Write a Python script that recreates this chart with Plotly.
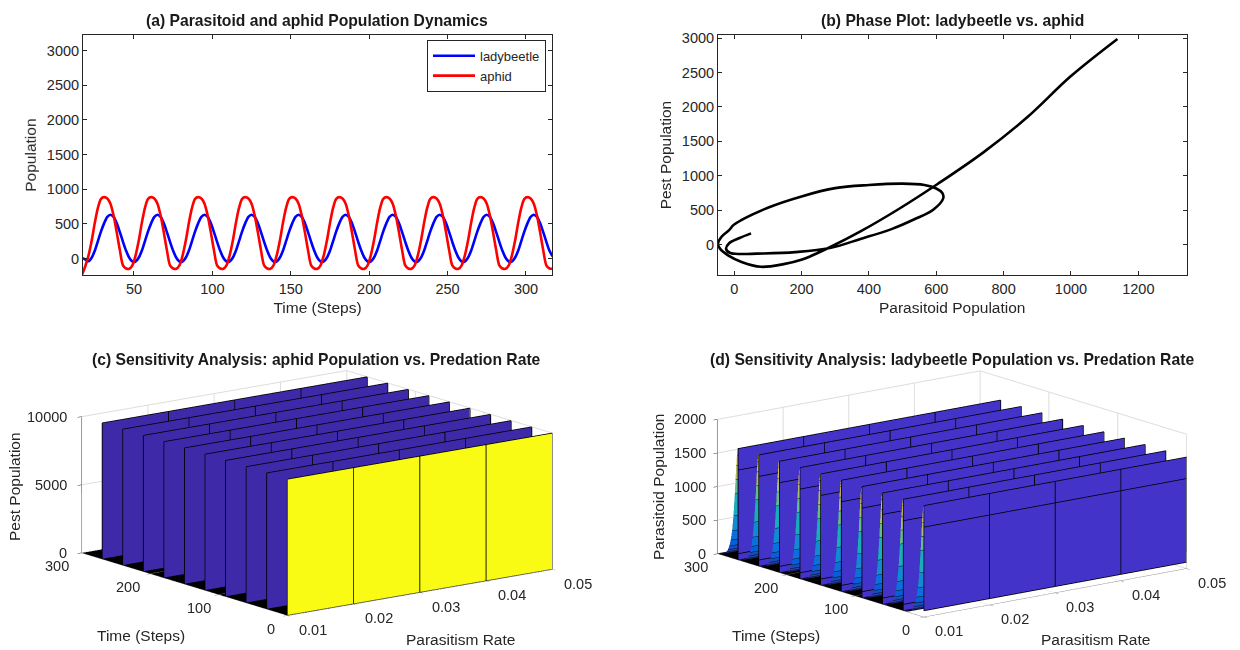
import plotly.graph_objects as go

W, H = 1240, 650

time_a = [17, 19, 21, 23, 25, 27, 29] + list(range(31, 318, 2))
ladybeetle = [5, -15, -40, 10, 110, 250, 390,
    510, 600, 630, 600, 510, 380, 240, 110, 10, -45, -45, 10, 110, 250, 390,
    510, 600, 630, 600, 510, 380, 240, 110, 10, -45, -45, 10, 110, 250, 390,
    510, 600, 630, 600, 510, 380, 240, 110, 10, -45, -45, 10, 110, 250, 390,
    510, 600, 630, 600, 510, 380, 240, 110, 10, -45, -45, 10, 110, 250, 390,
    510, 600, 630, 600, 510, 380, 240, 110, 10, -45, -45, 10, 110, 250, 390,
    510, 600, 630, 600, 510, 380, 240, 110, 10, -45, -45, 10, 110, 250, 390,
    510, 600, 630, 600, 510, 380, 240, 110, 10, -45, -45, 10, 110, 250, 390,
    510, 600, 630, 600, 510, 380, 240, 110, 10, -45, -45, 10, 110, 250, 390,
    510, 600, 630, 600, 510, 380, 240, 110, 10, -45, -45, 10, 110, 250, 390,
    510, 600, 630, 600, 510, 380, 240, 110, 30]
aphid = [-230, -110, 40, 250, 510, 730, 860,
    885, 865, 790, 620, 380, 120, -100, -145, -150, -100, 40, 250, 510, 730, 860,
    885, 865, 790, 620, 380, 120, -100, -145, -150, -100, 40, 250, 510, 730, 860,
    885, 865, 790, 620, 380, 120, -100, -145, -150, -100, 40, 250, 510, 730, 860,
    885, 865, 790, 620, 380, 120, -100, -145, -150, -100, 40, 250, 510, 730, 860,
    885, 865, 790, 620, 380, 120, -100, -145, -150, -100, 40, 250, 510, 730, 860,
    885, 865, 790, 620, 380, 120, -100, -145, -150, -100, 40, 250, 510, 730, 860,
    885, 865, 790, 620, 380, 120, -100, -145, -150, -100, 40, 250, 510, 730, 860,
    885, 865, 790, 620, 380, 120, -100, -145, -150, -100, 40, 250, 510, 730, 860,
    885, 865, 790, 620, 380, 120, -100, -145, -150, -100, 40, 250, 510, 730, 860,
    885, 865, 790, 620, 380, 120, -100, -145, -150]

phase_x = [1138, 1000, 870, 740, 604, 490, 375, 284, 204, 147, 79, 22, -18, -42, -48, -38, -15, 0, 100, 200,
           300, 400, 500, 565, 600, 618, 621, 592, 535, 467, 375, 284, 181, 67, 20, -13, -24, -15, 16, 50]
phase_y = [2990, 2450, 1850, 1340, 880, 520, 190, -40, -215, -285, -324, -253, -157, -60, 10, 110, 210, 290,
           535, 700, 820, 865, 885, 865, 815, 750, 677, 510, 367, 224, 81, -52, -110, -133, -138, -120,
           -62, 19, 95, 162]

rates = [0.01, 0.02, 0.03, 0.04, 0.05]
wall_times = [0, 30, 60, 90, 120, 150, 180, 210, 240, 270]
floor_times_c = [0, 300]
floor_times_d = [30, 300]
aphid_peak = 10000
beetle_peak = 1660
beetle_mesh_levels = [1340, 95]
beetle_first_base = 95
tail_steps = [0, 1, 2, 3, 4, 6, 8, 10, 12, 14, 16, 18, 20, 23, 26, 29]
tail_values = [1660, 1560, 1400, 1190, 980, 640, 410, 265, 170, 110, 70, 45, 28, 12, 4, 0]

INK = '#262626'
FONT = 'Liberation Sans'
BLUE_C, BLUE_D, YELLOW = '#3E2AA8', '#4433C8', '#F9FB15'
PARULA = [(0, (53, 42, 135)), (0.14, (3, 99, 225)), (0.29, (20, 133, 212)), (0.43, (6, 167, 198)),
          (0.57, (56, 185, 158)), (0.71, (146, 191, 115)), (0.86, (217, 186, 86)), (1, (249, 251, 14))]
FLAT = dict(ambient=1, diffuse=0, specular=0, fresnel=0, roughness=1)


def parula(v):
    for (a, ca), (b, cb) in zip(PARULA, PARULA[1:]):
        if v <= b:
            f = (v - a) / (b - a)
            c = [round(p + (q - p) * f) for p, q in zip(ca, cb)]
            return f'rgb({c[0]},{c[1]},{c[2]})'
    return 'rgb(249,251,14)'


def px(x):
    return x / W


def py(y):
    return 1 - y / H


class Mesh:
    def __init__(self):
        self.x, self.y, self.z, self.i, self.j, self.k, self.c = [], [], [], [], [], [], []

    def quad(self, p, colour):
        n = len(self.x)
        for q in p:
            self.x.append(q[0])
            self.y.append(q[1])
            self.z.append(q[2])
        self.i += [n, n]
        self.j += [n + 1, n + 2]
        self.k += [n + 2, n + 3]
        self.c += [colour, colour]

    def trace(self, scene):
        return go.Mesh3d(x=self.x, y=self.y, z=self.z, i=self.i, j=self.j, k=self.k, facecolor=self.c,
                         flatshading=True, lighting=FLAT, hoverinfo='skip', showscale=False, scene=scene)


class Lines:
    def __init__(self):
        self.x, self.y, self.z = [], [], []

    def add(self, p, q):
        self.x += [p[0], q[0], None]
        self.y += [p[1], q[1], None]
        self.z += [p[2], q[2], None]

    def trace(self, scene, width=1.6):
        return go.Scatter3d(x=self.x, y=self.y, z=self.z, mode='lines', line=dict(color='black', width=width),
                            hoverinfo='skip', showlegend=False, scene=scene, connectgaps=False)


r0, r1 = rates[0], rates[-1]
lift = 0.6  # walls sit just behind their outline so the black edges stay in front
fig = go.Figure()
fig.add_trace(go.Scatter(x=time_a, y=ladybeetle, name='ladybeetle', mode='lines',
                         line=dict(color='#0000FF', width=2.6, shape='spline', smoothing=0.8), xaxis='x', yaxis='y'))
fig.add_trace(go.Scatter(x=time_a, y=aphid, name='aphid', mode='lines',
                         line=dict(color='#FF0000', width=2.6, shape='spline', smoothing=0.8), xaxis='x', yaxis='y'))
fig.add_trace(go.Scatter(x=phase_x, y=phase_y, mode='lines', showlegend=False,
                         line=dict(color='black', width=2.6, shape='spline', smoothing=1), xaxis='x2', yaxis='y2'))

# (c)
mesh_c, lines_c = Mesh(), Lines()
mesh_c.quad([(r0, floor_times_c[0], 0), (r1, floor_times_c[0], 0), (r1, floor_times_c[1], 0), (r0, floor_times_c[1], 0)], 'black')
for n, t in enumerate(wall_times):
    w = t + lift
    mesh_c.quad([(r0, w, 0), (r1, w, 0), (r1, w, aphid_peak), (r0, w, aphid_peak)], YELLOW if n == 0 else BLUE_C)
    lines_c.add((r0, t, aphid_peak), (r1, t, aphid_peak))
    lines_c.add((r0, t, 0), (r1, t, 0))
    for r in rates:
        lines_c.add((r, t, 0), (r, t, aphid_peak))
fig.add_trace(mesh_c.trace('scene'))
fig.add_trace(lines_c.trace('scene'))

# (d)
mesh_d, lines_d = Mesh(), Lines()
mesh_d.quad([(r0, floor_times_d[0], 0), (r1, floor_times_d[0], 0), (r1, floor_times_d[1], 0), (r0, floor_times_d[1], 0)], 'black')
for n, t in enumerate(wall_times):
    base = beetle_first_base if n == 0 else 0
    w = t + lift
    for k in range(len(tail_steps) - 1):
        y0, y1 = w + tail_steps[k] + 0.2, w + tail_steps[k + 1] + 0.2
        z0, z1 = tail_values[k], tail_values[k + 1]
        mesh_d.quad([(r0, y0, z0), (r1, y0, z0), (r1, y1, z1), (r0, y1, z1)], parula((z0 + z1) / 2 / 1700))
        lines_d.add((r0, y1, z1), (r0 + 0.004, y1, z1))
    mesh_d.quad([(r0, w, base), (r1, w, base), (r1, w, beetle_peak), (r0, w, beetle_peak)], BLUE_D)
    lines_d.add((r0, t, beetle_peak), (r1, t, beetle_peak))
    lines_d.add((r0, t, beetle_mesh_levels[0]), (r1, t, beetle_mesh_levels[0]))
    lines_d.add((r0, t, base), (r1, t, base))
    if n > 0:
        lines_d.add((r0, t, beetle_mesh_levels[1]), (r1, t, beetle_mesh_levels[1]))
    for r in rates:
        lines_d.add((r, t, base), (r, t, beetle_peak))
fig.add_trace(mesh_d.trace('scene2'))
fig.add_trace(lines_d.trace('scene2'))

axis2d = dict(showgrid=False, zeroline=False, showline=True, linecolor=INK, linewidth=1, mirror='allticks',
              ticks='inside', ticklen=4, tickcolor=INK, tickfont=dict(family=FONT, size=14.5, color=INK))


def title2d(text, standoff):
    return dict(text=text, font=dict(family=FONT, size=15.5, color=INK), standoff=standoff)


axis3d = dict(title=dict(text=''), showticklabels=False, showbackground=False, showspikes=False,
              gridcolor='#DDDDDD', zeroline=False, showline=True, linecolor='#555555', ticks='outside',
              ticklen=5, tickcolor='#333333')


def tick_notes(xtext, zvals, zright):
    notes = []
    font = dict(family=FONT, size=14.5, color=INK)
    for r in rates:
        notes.append(dict(x=r, y=0, z=0, text=f'{r:.2f}', showarrow=False, font=font, xshift=25.5, yshift=-14))
    for t in (0, 100, 200, 300):
        notes.append(dict(x=0.01, y=t, z=0, text=str(t), showarrow=False, font=font,
                          xshift=-17 - t * xtext, yshift=-13))
    for z in zvals:
        notes.append(dict(x=0.01, y=300, z=z, text=str(z), showarrow=False, font=font, xanchor='right',
                          xshift=zright, yshift=0))
    return notes


def scene_layout(cx, cy, ratio, eye, zmax, zvals, zright, xtext):
    hw, hh = 270, 147
    return dict(domain=dict(x=[px(cx - hw), px(cx + hw)], y=[py(cy + hh), py(cy - hh)]),
                aspectmode='manual', aspectratio=ratio,
                camera=dict(eye=eye, up=dict(x=0, y=0, z=1), center=dict(x=0, y=0, z=0),
                            projection=dict(type='orthographic')),
                xaxis=dict(axis3d, range=[0.01, 0.05], tickvals=rates),
                yaxis=dict(axis3d, range=[0, 300], tickvals=[0, 100, 200, 300]),
                zaxis=dict(axis3d, range=[0, zmax], tickvals=zvals),
                annotations=tick_notes(xtext, zvals, zright), bgcolor='white')


def note(x, y, text, size=15.5, bold=False, angle=0):
    t = f'<b>{text}</b>' if bold else text
    return dict(xref='paper', yref='paper', x=px(x), y=py(y), text=t, showarrow=False, textangle=angle,
                xanchor='center', yanchor='middle',
                font=dict(family=FONT, size=size, color='#1A1A1A' if bold else INK))


S = 2.5
K = 2.3
fig.update_layout(
    width=W, height=H, autosize=False, margin=dict(l=0, r=0, t=0, b=0), paper_bgcolor='white', plot_bgcolor='white',
    xaxis=dict(axis2d, domain=[px(83), px(552)], range=[17.5, 316.6], tickvals=[50, 100, 150, 200, 250, 300],
               title=title2d('Time (Steps)', 6)),
    yaxis=dict(axis2d, domain=[py(273), py(31)], range=[-244, 3230], tickvals=[0, 500, 1000, 1500, 2000, 2500, 3000],
               title=title2d('Population', 6)),
    xaxis2=dict(axis2d, domain=[px(718), px(1186.5)], range=[-48, 1343], tickvals=[0, 200, 400, 600, 800, 1000, 1200],
                title=title2d('Parasitoid Population', 6), anchor='y2'),
    yaxis2=dict(axis2d, domain=[py(273), py(31)], range=[-448, 3050], tickvals=[0, 500, 1000, 1500, 2000, 2500, 3000],
                title=title2d('Pest Population', 6), anchor='x2'),
    legend=dict(x=px(427), y=py(36), xanchor='left', yanchor='top', bgcolor='white', bordercolor=INK, borderwidth=1,
                font=dict(family=FONT, size=13, color=INK), itemwidth=42, tracegroupgap=0),
    scene=scene_layout(317.3, 492.2, dict(x=0.99 * K, y=1.015 * K, z=0.417 * K),
                       dict(x=-0.587 * S, y=-0.776 * S, z=0.23 * S), 10000, [0, 5000, 10000], -13, 0.027),
    scene2=scene_layout(951.5, 493, dict(x=0.99 * K, y=1.003 * K, z=0.412 * K),
                        dict(x=-0.595 * S, y=-0.767 * S, z=0.238 * S), 2000, [0, 500, 1000, 1500, 2000], -9, 0.012),
    annotations=[
        note(317, 17, '(a) Parasitoid and aphid Population Dynamics', 15.7, True),
        note(952, 17, '(b) Phase Plot: ladybeetle vs. aphid', 15.7, True),
        note(316.5, 358, '(c) Sensitivity Analysis: aphid Population vs. Predation Rate', 15.7, True),
        note(951.7, 358, '(d) Sensitivity Analysis: ladybeetle Population vs. Predation Rate', 15.7, True),
        note(14, 486, 'Pest Population', angle=-90),
        note(141, 635, 'Time (Steps)'),
        note(460, 639, 'Parasitism Rate'),
        note(658, 486, 'Parasitoid Population', angle=-90),
        note(776, 635, 'Time (Steps)'),
        note(1095, 639, 'Parasitism Rate'),
    ],
)
fig.write_html('out.html', config=dict(displayModeBar=False),
               post_script="document.body.style.margin='0';document.documentElement.style.overflow='hidden';window.dispatchEvent(new Event('resize'));")
